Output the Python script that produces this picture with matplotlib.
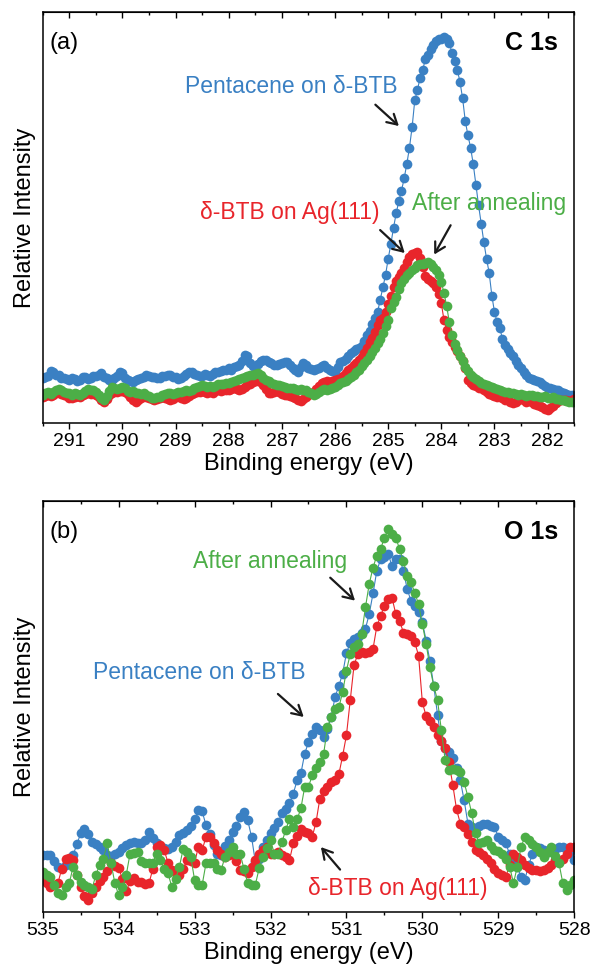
import numpy as np
import matplotlib
matplotlib.use("Agg")
import matplotlib.pyplot as plt
from matplotlib.ticker import MultipleLocator

plt.rcParams['font.family'] = ['Liberation Sans', 'DejaVu Sans']

BLUE = '#3a80c3'
RED = '#e8252b'
GREEN = '#4cae47'

# C 1s spectra, 0.05 eV steps from 291.5 down to 281.5 eV
c1s_energy = np.linspace(291.5, 281.5, 201)
c1s_pentacene = [
    10.9, 11.2, 11.5, 12.6, 12.3, 11.8, 11.7, 11.0, 11.0, 10.6,
    10.5, 11.0, 10.8, 10.2, 10.5, 11.3, 11.2, 10.6, 10.9, 11.4,
    11.5, 11.8, 12.1, 11.2, 11.0, 10.4, 10.5, 11.0, 11.5, 12.3,
    12.1, 11.0, 10.5, 10.1, 10.0, 10.4, 10.6, 11.0, 11.3, 11.6,
    11.5, 11.2, 11.3, 10.9, 11.0, 11.4, 11.5, 11.8, 11.7, 11.3,
    11.2, 10.8, 10.9, 11.4, 12.0, 12.4, 12.5, 12.0, 11.7, 11.5,
    11.5, 11.9, 11.7, 11.4, 12.0, 12.3, 12.5, 12.6, 12.8, 13.0,
    13.3, 13.0, 13.6, 13.9, 14.1, 15.0, 16.5, 16.2, 14.5, 13.9,
    13.7, 14.3, 15.0, 15.4, 15.3, 14.9, 14.5, 14.2, 14.0, 14.4,
    14.6, 14.8, 14.9, 14.2, 13.5, 12.8, 12.5, 13.6, 14.5, 14.2,
    13.5, 13.1, 12.9, 13.2, 13.5, 13.9, 14.1, 13.5, 13.0, 12.6,
    12.5, 13.6, 14.9, 15.2, 15.5, 16.3, 17.0, 17.4, 18.0, 18.3,
    18.7, 20.0, 21.5, 22.5, 24.0, 25.5, 27.0, 30.0, 33.0, 36.0,
    40.0, 43.5, 47.5, 51.0, 54.0, 56.5, 59.5, 63.0, 67.0, 72.0,
    78.5, 81.0, 84.0, 86.0, 88.5, 89.5, 91.0, 92.0, 93.0, 93.5,
    93.5, 93.8, 93.5, 92.5, 90.0, 88.0, 86.0, 83.0, 79.0, 73.5,
    70.0, 67.0, 63.0, 58.0, 53.0, 48.5, 44.0, 40.0, 36.5, 31.0,
    27.0, 24.5, 23.0, 20.5, 19.0, 18.0, 17.0, 16.2, 15.0, 14.0,
    13.5, 12.5, 11.6, 11.0, 10.8, 10.4, 10.1, 9.9, 9.4, 9.0,
    8.6, 8.5, 8.3, 8.1, 8.0, 7.6, 7.4, 7.1, 6.9, 6.8,
    6.6,
]
c1s_btb = [
    6.3, 6.5, 6.9, 6.6, 6.8, 7.2, 7.5, 7.1, 6.8, 6.5,
    6.2, 6.0, 6.3, 6.6, 6.4, 6.8, 7.1, 7.3, 7.0, 7.2,
    6.8, 6.3, 5.6, 5.2, 5.9, 6.8, 7.4, 7.8, 7.5, 7.7,
    7.9, 7.5, 7.0, 6.4, 5.6, 5.2, 5.6, 6.2, 6.5, 6.3,
    6.0, 5.8, 5.7, 5.9, 6.1, 6.4, 6.2, 5.8, 5.6, 5.9,
    6.3, 6.5, 6.0, 5.8, 6.0, 6.6, 7.0, 7.2, 7.5, 7.6,
    7.8, 7.5, 7.2, 7.6, 7.4, 7.7, 8.0, 7.9, 8.1, 8.0,
    8.0, 8.2, 8.4, 8.3, 8.0, 8.3, 8.7, 9.2, 9.6, 9.9,
    10.1, 10.3, 10.0, 9.2, 8.3, 7.4, 7.2, 7.5, 8.0, 7.6,
    7.0, 6.8, 6.9, 6.6, 6.4, 6.0, 5.6, 5.3, 5.8, 6.4,
    6.9, 7.2, 7.6, 8.3, 9.0, 9.7, 9.9, 10.1, 10.0, 10.2,
    10.5, 10.6, 10.8, 11.5, 12.2, 13.0, 13.5, 14.0, 14.6, 15.3,
    16.0, 17.0, 18.3, 19.6, 20.8, 22.2, 23.8, 25.0, 25.5, 27.0,
    29.0, 31.0, 33.2, 34.5, 35.5, 36.4, 37.8, 39.2, 40.5, 41.0,
    41.3, 41.5, 40.2, 38.0, 35.8, 35.0, 34.6, 34.0, 33.2, 31.5,
    29.1, 25.0, 22.6, 21.0, 19.8, 18.6, 17.4, 16.4, 15.2, 13.5,
    10.5, 9.7, 9.2, 8.9, 8.5, 8.4, 8.0, 7.5, 7.0, 6.8,
    6.6, 6.3, 6.5, 6.0, 5.7, 5.5, 5.0, 4.8, 5.2, 5.6,
    5.9, 5.5, 5.2, 5.4, 5.0, 4.7, 4.5, 4.2, 3.8, 3.5,
    3.2, 3.6, 4.2, 4.8, 5.3, 5.6, 5.5, 5.7, 5.4, 5.6,
    5.8,
]
c1s_annealed = [
    6.8, 7.3, 7.6, 7.0, 7.5, 8.0, 8.3, 8.0, 7.6, 7.2,
    7.2, 6.9, 7.4, 7.0, 6.8, 7.2, 7.8, 8.3, 8.1, 8.0,
    7.6, 6.8, 6.0, 5.6, 6.5, 7.8, 8.8, 8.5, 8.2, 8.6,
    8.8, 8.4, 7.9, 7.6, 7.7, 7.4, 7.2, 7.0, 7.2, 6.8,
    6.5, 6.2, 6.0, 6.3, 6.4, 6.8, 7.0, 7.2, 7.3, 7.0,
    7.2, 7.6, 7.5, 7.8, 8.0, 7.9, 8.0, 8.4, 8.8, 9.0,
    9.2, 9.0, 8.7, 8.9, 8.8, 9.1, 9.4, 9.5, 9.6, 9.7,
    9.8, 10.0, 10.3, 10.5, 10.8, 11.0, 11.2, 11.5, 11.6, 11.7,
    12.0, 12.1, 11.8, 11.0, 10.5, 10.1, 9.8, 9.5, 9.3, 9.2,
    9.0, 8.8, 8.6, 8.4, 8.5, 8.2, 8.0, 8.3, 8.1, 8.0,
    7.6, 7.2, 6.8, 7.0, 7.5, 8.0, 8.2, 8.0, 8.3, 8.4,
    8.8, 9.3, 9.7, 10.0, 10.3, 10.6, 11.2, 11.8, 12.4, 12.9,
    13.8, 14.5, 15.3, 16.2, 17.2, 18.3, 19.4, 20.5, 21.8, 23.5,
    25.0, 27.9, 29.5, 30.7, 32.5, 34.0, 35.0, 36.0, 36.6, 37.2,
    37.8, 38.4, 38.6, 38.8, 39.0, 39.2, 38.8, 38.0, 37.2, 36.0,
    34.4, 31.6, 28.5, 24.5, 21.4, 19.3, 17.7, 16.2, 15.0, 13.7,
    12.6, 11.8, 11.3, 10.8, 10.2, 9.7, 9.5, 9.2, 8.9, 8.7,
    8.4, 8.2, 8.0, 7.9, 7.6, 7.5, 7.3, 7.2, 7.0, 6.9,
    7.0, 6.8, 6.6, 6.9, 6.7, 6.5, 6.6, 6.3, 6.4, 6.5,
    6.2, 6.0, 6.3, 5.9, 5.8, 5.6, 5.5, 5.3, 5.2, 5.0,
    5.0,
]

# O 1s spectra, 0.05 eV steps from 535.0 down to 528.0 eV
o1s_energy = np.linspace(535.0, 528.0, 141)
o1s_pentacene = [
    13.8, 13.8, 13.8, 12.5, 11.0, 10.8, 11.4, 12.0, 13.8, 16.5,
    19.1, 20.3, 19.0, 17.0, 16.5, 15.9, 15.0, 13.8, 13.5, 14.2,
    14.6, 15.5, 16.3, 16.8, 17.0, 16.8, 16.7, 17.5, 19.5, 18.0,
    16.7, 15.8, 15.5, 15.2, 15.9, 17.0, 18.7, 19.3, 19.9, 20.8,
    22.5, 24.8, 24.5, 21.1, 19.0, 16.3, 14.0, 13.8, 16.0, 17.5,
    19.5, 21.0, 23.0, 24.3, 22.3, 18.3, 12.2, 13.0, 15.8, 17.5,
    19.1, 20.5, 21.9, 24.0, 25.0, 26.4, 28.8, 32.0, 33.7, 38.5,
    41.3, 43.4, 45.0, 44.2, 42.5, 44.5, 47.5, 52.3, 55.0, 58.0,
    63.0, 65.5, 66.4, 67.0, 68.0, 68.9, 72.5, 77.5, 83.0, 85.8,
    86.5, 87.1, 84.2, 85.8, 86.0, 83.0, 78.6, 75.7, 74.5, 73.0,
    70.5, 66.0, 61.0, 55.0, 48.0, 41.5, 40.0, 39.0, 37.5, 35.0,
    32.0, 27.2, 21.5, 20.7, 20.5, 21.0, 21.3, 21.5, 21.0, 20.7,
    18.3, 17.5, 16.7, 14.0, 12.0, 11.0, 8.5, 7.8, 11.5, 14.0,
    15.8, 15.5, 15.0, 14.6, 15.0, 15.4, 15.8, 15.8, 15.2, 14.5,
    12.6,
]
o1s_btb = [
    8.0, 7.0, 6.1, 6.5, 7.0, 10.5, 13.0, 13.2, 12.6, 9.0,
    6.1, 3.8, 2.9, 4.5, 6.1, 7.5, 8.6, 10.0, 11.8, 11.2,
    10.8, 8.0, 5.0, 7.5, 8.2, 7.2, 7.4, 6.8, 7.0, 10.5,
    15.8, 16.3, 15.0, 12.0, 10.2, 9.4, 9.0, 10.5, 12.6, 12.5,
    12.0, 15.8, 15.0, 18.3, 18.3, 16.7, 15.0, 14.2, 13.4, 13.8,
    14.2, 12.5, 10.2, 10.0, 9.4, 11.0, 12.6, 14.2, 15.0, 15.8,
    14.2, 14.0, 14.6, 13.8, 13.4, 12.6, 16.7, 18.5, 20.3, 19.5,
    19.1, 18.3, 21.9, 27.6, 29.5, 30.4, 31.6, 32.0, 33.5, 38.0,
    43.0, 51.5, 60.0, 62.8, 63.2, 63.0, 63.2, 64.0, 69.5, 72.0,
    74.5, 76.1, 76.5, 72.5, 70.9, 68.0, 67.6, 67.2, 65.6, 62.4,
    51.0, 47.6, 46.5, 45.0, 43.0, 41.5, 40.0, 36.5, 31.0, 25.0,
    21.5, 20.7, 19.0, 17.0, 15.0, 14.5, 13.8, 12.8, 11.8, 10.5,
    9.4, 9.0, 8.6, 11.5, 14.2, 13.4, 12.6, 11.5, 10.6, 10.2,
    10.2, 10.0, 10.2, 10.8, 11.5, 12.6, 12.2, 13.0, 14.0, 15.8,
    15.9,
]
o1s_annealed = [
    9.8, 9.0, 8.6, 6.5, 4.5, 4.1, 6.0, 7.0, 11.0, 9.0,
    7.4, 6.5, 6.1, 5.7, 9.0, 11.5, 13.0, 16.7, 11.8, 7.0,
    4.1, 6.0, 9.0, 14.2, 14.4, 14.6, 12.5, 11.8, 11.8, 12.0,
    14.2, 12.6, 10.5, 9.4, 6.1, 8.0, 11.0, 15.4, 14.5, 13.4,
    7.8, 6.6, 6.6, 11.8, 11.8, 11.8, 10.5, 10.2, 13.4, 14.5,
    15.9, 14.2, 14.2, 10.5, 7.0, 6.6, 6.6, 10.6, 13.4, 15.5,
    17.5, 14.2, 14.2, 17.0, 19.9, 22.7, 20.7, 22.5, 25.2, 30.4,
    30.4, 33.3, 35.0, 36.5, 38.5, 45.0, 47.5, 49.4, 49.8, 53.5,
    58.7, 62.8, 64.4, 65.2, 67.6, 74.1, 79.8, 83.8, 86.7, 88.3,
    91.1, 93.1, 91.9, 91.1, 88.3, 85.4, 81.8, 80.2, 77.7, 74.9,
    70.0, 65.2, 59.5, 55.0, 51.5, 44.2, 37.0, 34.5, 34.9, 34.5,
    34.0, 31.6, 28.0, 24.0, 19.1, 16.7, 17.0, 17.5, 16.0, 15.0,
    14.8, 14.2, 13.0, 11.0, 7.0, 11.0, 15.8, 18.3, 17.5, 16.5,
    15.8, 14.5, 13.4, 14.5, 15.8, 13.5, 11.8, 7.0, 5.3, 6.5,
    7.8,
]

fig = plt.figure(figsize=(5.91, 9.74), dpi=100)
ax_c = fig.add_axes([0.0723, 0.5657, 0.8993, 0.4220])
ax_o = fig.add_axes([0.0723, 0.0637, 0.8993, 0.4219])


def draw_series(ax, x, y, color):
    ax.plot(x, y, '-', color=color, lw=0.8, marker='o', ms=7.0,
            mec=color, mfc=color, mew=0)


def style_axes(ax, xlim, tag, core):
    ax.set_xlim(*xlim)
    ax.set_ylim(0, 100)
    ax.set_yticks([])
    ax.xaxis.set_major_locator(MultipleLocator(1))
    ax.xaxis.set_minor_locator(MultipleLocator(0.5))
    ax.tick_params(axis='x', which='major', direction='out', length=4.5,
                   width=1, labelsize=14, pad=3)
    ax.tick_params(axis='x', which='minor', direction='out', length=2.5, width=1)
    for sp in ax.spines.values():
        sp.set_linewidth(1.1)
    top = ax.secondary_xaxis('top')
    top.xaxis.set_major_locator(MultipleLocator(1))
    top.xaxis.set_minor_locator(MultipleLocator(0.5))
    top.tick_params(axis='x', which='major', direction='in', length=4.5,
                    width=1, labeltop=False)
    top.tick_params(axis='x', which='minor', direction='in', length=2.5, width=1)
    ax.set_xlabel('Binding energy (eV)', fontsize=17, labelpad=2)
    ax.set_ylabel('Relative Intensity', fontsize=17, labelpad=5)
    ax.text(0.012, 0.925, tag, transform=ax.transAxes, fontsize=17,
            ha='left', va='center')
    ax.text(0.970, 0.925, core, transform=ax.transAxes, fontsize=18,
            fontweight='bold', ha='right', va='center')


def label(ax, text, pos, tail, head, color):
    ax.text(pos[0], pos[1], text, color=color, fontsize=16.5,
            ha='center', va='center')
    ax.annotate('', xy=head, xytext=tail,
                arrowprops=dict(arrowstyle='->,head_length=0.7,head_width=0.4',
                                color='#1a1a1a', lw=1.6))


# C 1s panel
draw_series(ax_c, c1s_energy, c1s_pentacene, BLUE)
draw_series(ax_c, c1s_energy, c1s_btb, RED)
draw_series(ax_c, c1s_energy, c1s_annealed, GREEN)
style_axes(ax_c, (291.5, 281.5), '(a)', 'C 1s')
label(ax_c, 'Pentacene on δ-BTB', (286.82, 81.8), (285.28, 77.9), (284.76, 71.8), BLUE)
label(ax_c, 'δ-BTB on Ag(111)', (286.85, 51.1), (285.19, 47.4), (284.65, 40.9), RED)
label(ax_c, 'After annealing', (283.10, 53.5), (283.80, 48.7), (284.16, 40.4), GREEN)

# O 1s panel
draw_series(ax_o, o1s_energy, o1s_pentacene, BLUE)
draw_series(ax_o, o1s_energy, o1s_btb, RED)
draw_series(ax_o, o1s_energy, o1s_annealed, GREEN)
style_axes(ax_o, (535, 528), '(b)', 'O 1s')
label(ax_o, 'After annealing', (532.0, 85.4), (531.24, 81.8), (530.86, 75.3), GREEN)
label(ax_o, 'Pentacene on δ-BTB', (532.94, 58.3), (531.93, 53.5), (531.535, 47.0), BLUE)
label(ax_o, 'δ-BTB on Ag(111)', (530.33, 5.7), (531.06, 9.8), (531.36, 16.3), RED)

fig.savefig('out.png', dpi=100)
